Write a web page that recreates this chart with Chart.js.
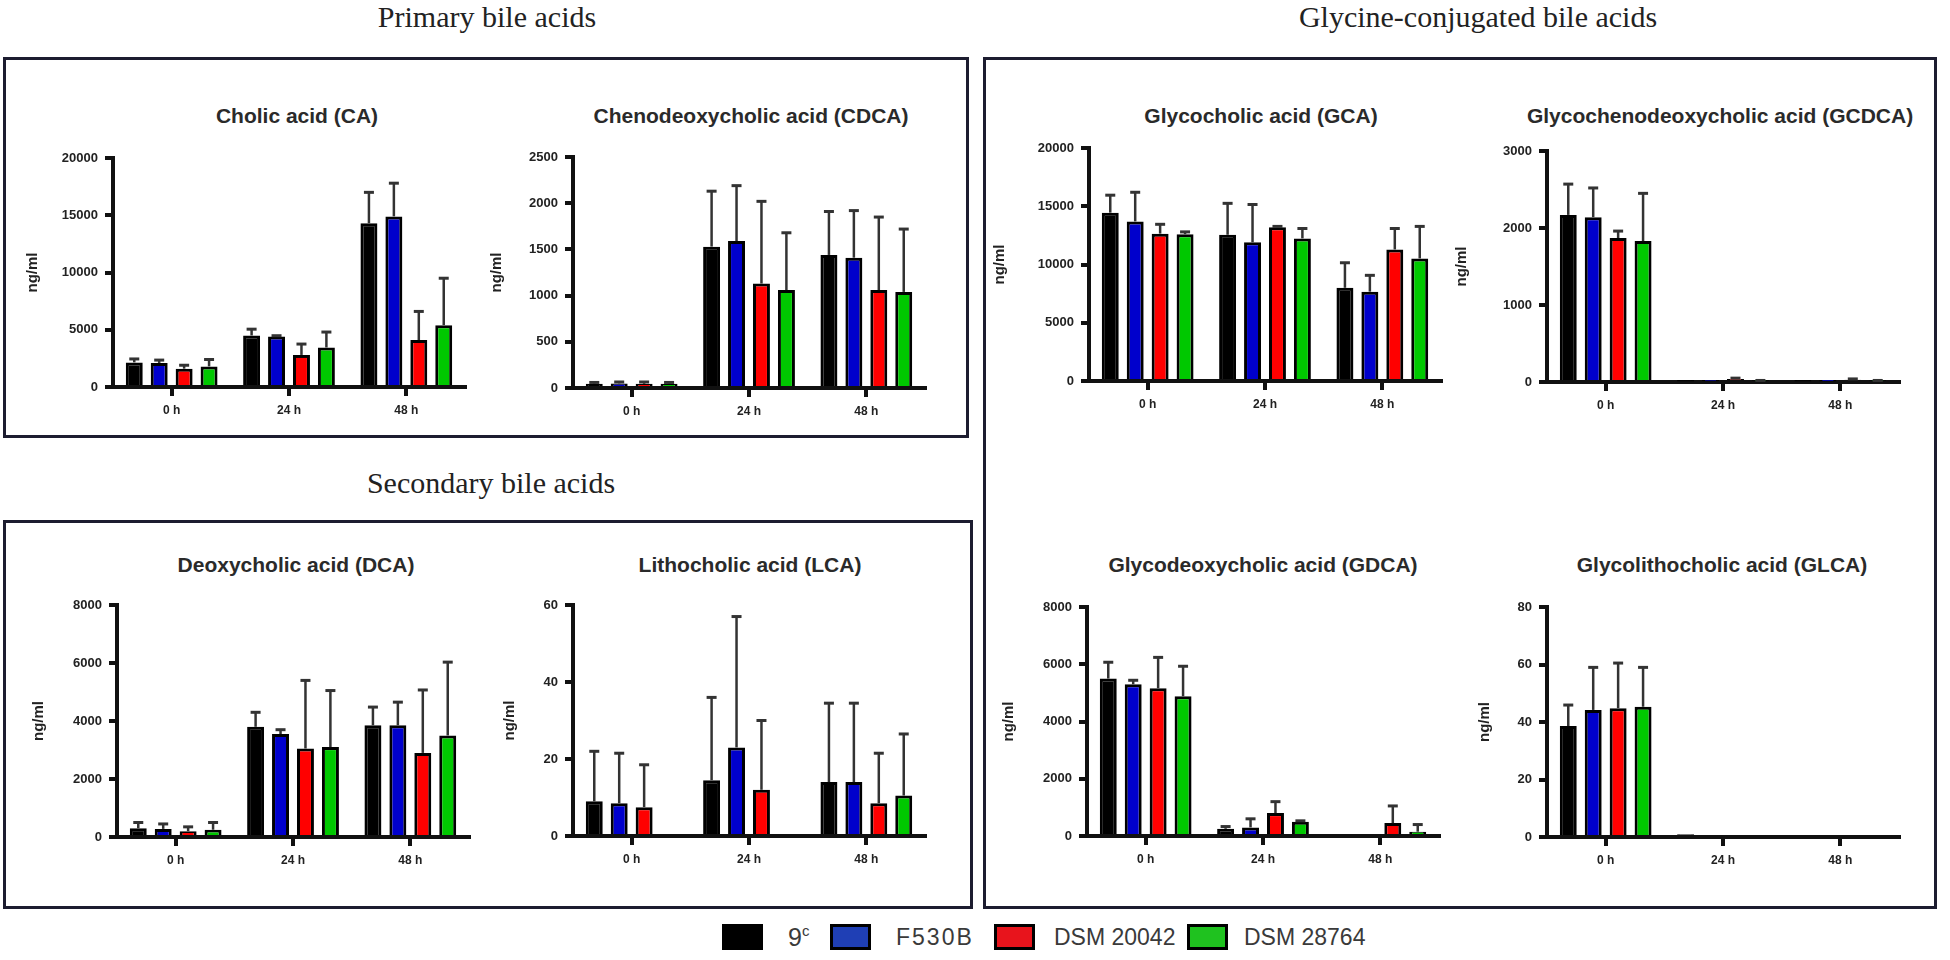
<!DOCTYPE html>
<html>
<head>
<meta charset="utf-8">
<script src="https://cdn.jsdelivr.net/npm/chart.js@4.4.1/dist/chart.umd.min.js"></script>
<style>
  body { margin: 0; background: #fff; }
  #page { position: relative; width: 1950px; height: 960px; overflow: hidden; background: #fff; }
  .box { position: absolute; box-sizing: border-box; border: 3px solid #1d1d30; }
  .section { position: absolute; transform: translate(-50%, -50%); font-family: "Liberation Serif", "Times New Roman", serif; font-size: 30px; color: #222; white-space: nowrap; }
  .ptitle { position: absolute; transform: translate(-50%, -50%); font-family: "Liberation Sans", Arial, sans-serif; font-weight: bold; font-size: 21px; color: #2a2a2a; white-space: nowrap; }
  canvas { position: absolute; }
  .lbox { position: absolute; top: 924px; width: 41px; height: 26px; box-sizing: border-box; border: 3px solid #000; }
  .ltext { position: absolute; top: 937px; transform: translateY(-50%); font-family: "Liberation Sans", Arial, sans-serif; font-size: 23px; color: #3a3a3a; white-space: nowrap; }
</style>
</head>
<body>
<div id="page">
  <div class="section" style="left:487px; top:17px;">Primary bile acids</div>
  <div class="section" style="left:1478px; top:17px;">Glycine-conjugated bile acids</div>
  <div class="section" style="left:491px; top:483px;">Secondary bile acids</div>

  <div class="box" style="left:3px; top:57px; width:966px; height:381px;"></div>
  <div class="box" style="left:3px; top:520px; width:970px; height:389px;"></div>
  <div class="box" style="left:983px; top:57px; width:954px; height:852px;"></div>

  <div class="lbox" style="left:722px; background:#000;"></div>
  <div class="ltext" style="left:788px; font-size:25px;">9<sup style="font-size:15px;">c</sup></div>
  <div class="lbox" style="left:830px; background:#1f3fb5;"></div>
  <div class="ltext" style="left:896px; letter-spacing:2px;">F530B</div>
  <div class="lbox" style="left:994px; background:#e8141c;"></div>
  <div class="ltext" style="left:1054px;">DSM 20042</div>
  <div class="lbox" style="left:1187px; background:#1fc21f;"></div>
  <div class="ltext" style="left:1244px;">DSM 28764</div>
</div>
<script>
// time points and strains
const timepoints = ['0 h', '24 h', '48 h'];
const strains = ['9c', 'F530B', 'DSM 20042', 'DSM 28764'];
const barColors = ['#000000', '#0000cc', '#ff0000', '#00c800'];

// mean values, one row per strain (9c, F530B, DSM 20042, DSM 28764)
const caMean = [[2150, 4500, 14300], [2100, 4400, 14900], [1600, 2800, 4100], [1800, 3450, 5400]];
const caSD = [[300, 550, 2700], [250, 80, 2900], [300, 950, 2500], [600, 1350, 4100]];
const caTicks = [0, 5000, 10000, 15000, 20000];

const cdcaMean = [[45, 1530, 1440], [50, 1590, 1410], [45, 1130, 1060], [45, 1060, 1040]];
const cdcaSD = [[15, 600, 470], [15, 600, 510], [20, 890, 790], [15, 620, 680]];
const cdcaTicks = [0, 500, 1000, 1500, 2000, 2500];

const gcaMean = [[14450, 12550, 8000], [13700, 11900, 7670], [12650, 13190, 11290], [12600, 12240, 10520]];
const gcaSD = [[1500, 2700, 2150], [2500, 3250, 1400], [800, 80, 1800], [200, 850, 2750]];
const gcaTicks = [0, 5000, 10000, 15000, 20000];

const gcdcaMean = [[2170, 8, 5], [2140, 10, 8], [1870, 40, 30], [1830, 15, 15]];
const gcdcaSD = [[400, 0, 0], [380, 0, 0], [90, 10, 10], [620, 5, 5]];
const gcdcaTicks = [0, 1000, 2000, 3000];

const dcaMean = [[300, 3800, 3850], [280, 3550, 3850], [200, 3050, 2900], [250, 3100, 3500]];
const dcaSD = [[200, 500, 630], [170, 150, 800], [150, 2350, 2170], [250, 1950, 2530]];
const dcaTicks = [0, 2000, 4000, 6000, 8000];

const lcaMean = [[9, 14.5, 14], [8.5, 23, 14], [7.5, 12, 8.5], [0, 0, 10.5]];
const lcaSD = [[13, 21.5, 20.5], [13, 34, 20.5], [11, 18, 13], [0, 0, 16]];
const lcaTicks = [0, 20, 40, 60];

const gdcaMean = [[5500, 250, 0], [5300, 300, 0], [5160, 800, 450], [4880, 500, 150]];
const gdcaSD = [[570, 80, 0], [140, 300, 0], [1080, 400, 600], [1050, 30, 250]];
const gdcaTicks = [0, 2000, 4000, 6000, 8000];

const glcaMean = [[38.6, 1, 0], [44.2, 0, 0], [44.8, 0, 0], [45.3, 0, 0]];
const glcaSD = [[7.3, 0, 0], [14.8, 0, 0], [15.7, 0, 0], [13.7, 0, 0]];
const glcaTicks = [0, 20, 40, 60, 80];

// panel placement on the page
const panels = [
  { title: 'Cholic acid (CA)', mean: caMean, sd: caSD, ticks: caTicks, x0: 113, yTop: 158, yZero: 387, ng: 80, tx: 297, ty: 116 },
  { title: 'Chenodeoxycholic acid (CDCA)', mean: cdcaMean, sd: cdcaSD, ticks: cdcaTicks, x0: 573, yTop: 157, yZero: 388, ng: 76, tx: 751, ty: 116 },
  { title: 'Glycocholic acid (GCA)', mean: gcaMean, sd: gcaSD, ticks: gcaTicks, x0: 1089, yTop: 148, yZero: 381, ng: 89, tx: 1261, ty: 116 },
  { title: 'Glycochenodeoxycholic acid (GCDCA)', mean: gcdcaMean, sd: gcdcaSD, ticks: gcdcaTicks, x0: 1547, yTop: 151, yZero: 382, ng: 85, tx: 1720, ty: 116 },
  { title: 'Deoxycholic acid (DCA)', mean: dcaMean, sd: dcaSD, ticks: dcaTicks, x0: 117, yTop: 605, yZero: 837, ng: 78, tx: 296, ty: 565 },
  { title: 'Lithocholic acid (LCA)', mean: lcaMean, sd: lcaSD, ticks: lcaTicks, x0: 573, yTop: 605, yZero: 836, ng: 63, tx: 750, ty: 565 },
  { title: 'Glycodeoxycholic acid (GDCA)', mean: gdcaMean, sd: gdcaSD, ticks: gdcaTicks, x0: 1087, yTop: 607, yZero: 836, ng: 78, tx: 1263, ty: 565 },
  { title: 'Glycolithocholic acid (GLCA)', mean: glcaMean, sd: glcaSD, ticks: glcaTicks, x0: 1547, yTop: 607, yZero: 837, ng: 62, tx: 1722, ty: 565 }
];

// mean + SD, drawn upward only
const errorBars = {
  id: 'errorBars',
  afterDatasetsDraw(chart) {
    const ctx = chart.ctx;
    const yScale = chart.scales.y;
    chart.data.datasets.forEach((ds, i) => {
      chart.getDatasetMeta(i).data.forEach((bar, j) => {
        const sd = ds.sd[j];
        if (!sd) return;
        const top = yScale.getPixelForValue(ds.data[j] + sd);
        ctx.save();
        ctx.strokeStyle = '#333';
        ctx.lineWidth = 2.5;
        ctx.beginPath();
        ctx.moveTo(bar.x, bar.y);
        ctx.lineTo(bar.x, top);
        ctx.stroke();
        ctx.lineWidth = 3;
        ctx.beginPath();
        ctx.moveTo(bar.x - 5, top);
        ctx.lineTo(bar.x + 5, top);
        ctx.stroke();
        ctx.restore();
      });
    });
  }
};

Chart.defaults.font.family = '"Liberation Sans", Arial, sans-serif';
const page = document.getElementById('page');

panels.forEach(p => {
  const t = document.createElement('div');
  t.className = 'ptitle';
  t.style.left = p.tx + 'px';
  t.style.top = p.ty + 'px';
  t.textContent = p.title;
  page.appendChild(t);

  const yW = p.ng + 12;
  const xH = 40;
  const top = p.yTop - 20;
  const canvas = document.createElement('canvas');
  canvas.width = yW + 352 + 6;
  canvas.height = p.yZero - top + xH;
  canvas.style.left = (p.x0 - yW) + 'px';
  canvas.style.top = top + 'px';
  page.appendChild(canvas);

  new Chart(canvas.getContext('2d'), {
    type: 'bar',
    data: {
      labels: timepoints,
      datasets: strains.map((s, i) => ({
        label: s,
        data: p.mean[i],
        sd: p.sd[i],
        backgroundColor: barColors[i],
        borderColor: '#000',
        borderWidth: 3,
        categoryPercentage: 0.85,
        barPercentage: 0.68
      }))
    },
    options: {
      responsive: false,
      animation: false,
      devicePixelRatio: 1,
      layout: { padding: { top: 20, right: 6, bottom: 0, left: 0 } },
      plugins: { legend: { display: false }, tooltip: { enabled: false }, title: { display: false } },
      scales: {
        x: {
          afterFit: s => { s.height = xH; },
          border: { display: true, color: '#111', width: 4 },
          grid: { display: true, offset: false, drawOnChartArea: false, drawTicks: true, tickLength: 9, lineWidth: 4, color: '#111' },
          ticks: { color: '#222', padding: 7, font: { size: 12, weight: 'bold' } }
        },
        y: {
          min: p.ticks[0],
          max: p.ticks[p.ticks.length - 1],
          afterFit: s => { s.width = yW; },
          afterBuildTicks: s => { s.ticks = p.ticks.map(v => ({ value: v })); },
          border: { display: true, color: '#111', width: 4 },
          grid: { display: true, drawOnChartArea: false, drawTicks: true, tickLength: 8, lineWidth: 4, color: '#111' },
          ticks: { color: '#222', padding: 7, font: { size: 13, weight: 'bold' }, callback: v => String(v) },
          title: { display: true, text: 'ng/ml', color: '#222', padding: { top: 3, bottom: 0 }, font: { size: 15, weight: 'bold' } }
        }
      }
    },
    plugins: [errorBars]
  });
});
</script>
</body>
</html>
